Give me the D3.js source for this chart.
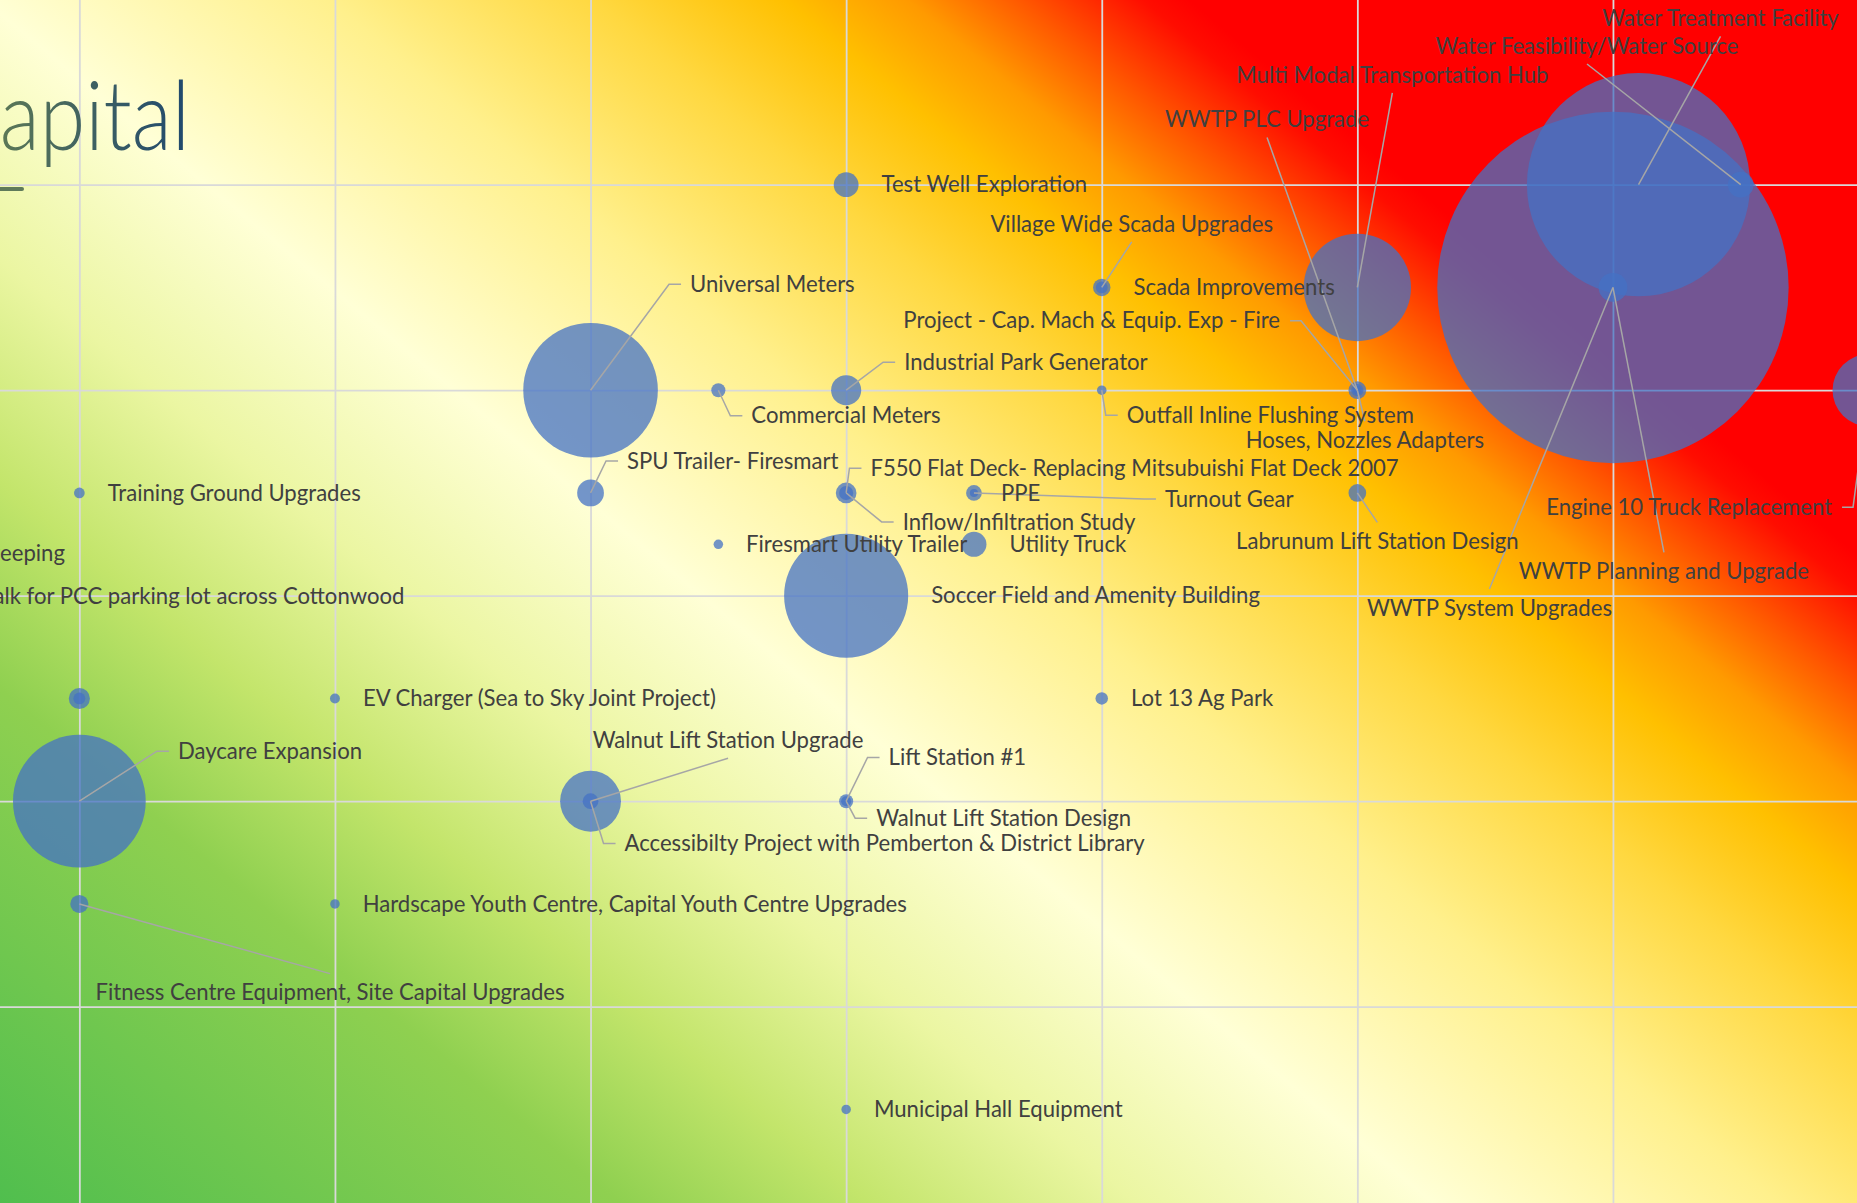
<!DOCTYPE html>
<html>
<head>
<meta charset="utf-8">
<script src="https://cdn.jsdelivr.net/npm/d3@7"></script>
<style>
  html, body { margin: 0; padding: 0; overflow: hidden; background: #fff; }
  svg { display: block; }
</style>
</head>
<body>
<div id="chart"></div>
<script>
// Project names, scores and cost (bubble size, $k)
const projects = [
  "Test Well Exploration",
  "Village Wide Scada Upgrades",
  "Scada Improvements",
  "Multi Modal Transportation Hub",
  "Universal Meters",
  "Commercial Meters",
  "Industrial Park Generator",
  "Outfall Inline Flushing System",
  "Project - Cap. Mach & Equip. Exp - Fire",
  "WWTP PLC Upgrade",
  "Hoses, Nozzles Adapters",
  "WWTP Planning and Upgrade",
  "WWTP System Upgrades",
  "Water Treatment Facility",
  "Water Feasibility/Water Source",
  "Engine 10 Truck Replacement",
  "Labrunum Lift Station Design",
  "PPE",
  "Turnout Gear",
  "F550 Flat Deck- Replacing Mitsubuishi Flat Deck 2007",
  "Inflow/Infiltration Study",
  "SPU Trailer- Firesmart",
  "Training Ground Upgrades",
  "Firesmart Utility Trailer",
  "Utility Truck",
  "Soccer Field and Amenity Building",
  "EV Charger (Sea to Sky Joint Project)",
  "Street Sweeping",
  "Sidewalk for PCC parking lot across Cottonwood",
  "Lot 13 Ag Park",
  "Daycare Expansion",
  "Walnut Lift Station Upgrade",
  "Accessibilty Project with Pemberton & District Library",
  "Lift Station #1",
  "Walnut Lift Station Design",
  "Fitness Centre Equipment, Site Capital Upgrades",
  "Hardscape Youth Centre, Capital Youth Centre Upgrades",
  "Municipal Hall Equipment"
];
const xScores = [4, 5, 5, 6, 3, 3.5, 4, 5, 6, 6, 6, 7, 7, 7.1, 7.5, 8, 6, 4.5, 4.5, 4, 4, 3, 1, 3.5, 4.5, 4, 2, 1, 1, 5, 1, 3, 3, 4, 4, 1, 2, 4];
const yScores = [5, 4.5, 4.5, 4.5, 4, 4, 4, 4, 4, 4, 4, 4.5, 4.5, 5, 5, 4, 3.5, 3.5, 3.5, 3.5, 3.5, 3.5, 3.5, 3.25, 3.25, 3, 2.5, 2.5, 2.5, 2.5, 2, 2, 2, 2, 2, 1.5, 1.5, 0.5];
const costs = [75, 17, 37, 1400, 2200, 24, 110, 11, 38, 18, 8, 15000, 100, 6050, 80, 630, 38, 8, 30, 52, 24, 87, 14, 11, 76, 1870, 12, 17, 54, 19, 2140, 450, 30, 24, 12, 40, 11, 11];

const xTicks = [0, 1, 2, 3, 4, 5, 6, 7, 8];
const yTicks = [0, 1, 2, 3, 4, 5, 6];

// Moved labels: offset of the label anchor from the bubble centre, and leader side
const labelLayout = {
  "Village Wide Scada Upgrades": { dx: 30, dy: -63.5, anchor: "middle", leader: "below" },
  "Multi Modal Transportation Hub": { dx: 35, dy: -212.5, anchor: "middle", leader: "below" },
  "Universal Meters": { dx: 99.5, dy: -106, anchor: "start", leader: "left" },
  "Commercial Meters": { dx: 33, dy: 25.5, anchor: "start", leader: "left" },
  "Industrial Park Generator": { dx: 58, dy: -28, anchor: "start", leader: "left" },
  "Outfall Inline Flushing System": { dx: 25, dy: 25, anchor: "start", leader: "left" },
  "Project - Cap. Mach & Equip. Exp - Fire": { dx: -77.3, dy: -69.5, anchor: "end", leader: "right" },
  "WWTP PLC Upgrade": { dx: -90.3, dy: -270.7, anchor: "middle", leader: "below" },
  "Hoses, Nozzles Adapters": { dx: 7.5, dy: 50, anchor: "middle", leader: "above" },
  "WWTP Planning and Upgrade": { dx: 51, dy: 284, anchor: "middle", leader: "above" },
  "WWTP System Upgrades": { dx: -123.5, dy: 320.5, anchor: "middle", leader: "above" },
  "Water Treatment Facility": { dx: 82, dy: -166.4, anchor: "middle", leader: "below" },
  "Water Feasibility/Water Source": { dx: -153.75, dy: -138.7, anchor: "middle", leader: "below" },
  "Engine 10 Truck Replacement": { dx: -36.5, dy: 117, anchor: "end", leader: "right" },
  "Labrunum Lift Station Design": { dx: 20, dy: 48.5, anchor: "middle", leader: "above" },
  "Turnout Gear": { dx: 191, dy: 6, anchor: "start", leader: "left" },
  "F550 Flat Deck- Replacing Mitsubuishi Flat Deck 2007": { dx: 24.3, dy: -24.7, anchor: "start", leader: "left" },
  "Inflow/Infiltration Study": { dx: 56.5, dy: 29, anchor: "start", leader: "left" },
  "SPU Trailer- Firesmart": { dx: 36.5, dy: -32, anchor: "start", leader: "left" },
  "Street Sweeping": { dx: -14.4, dy: -145.5, anchor: "end", leader: null },
  "Sidewalk for PCC parking lot across Cottonwood": { dx: 325, dy: -101.8, anchor: "end", leader: null },
  "Daycare Expansion": { dx: 98.6, dy: -50, anchor: "start", leader: "left" },
  "Walnut Lift Station Upgrade": { dx: 137.5, dy: -61, anchor: "middle", leader: "below" },
  "Accessibilty Project with Pemberton & District Library": { dx: 34, dy: 42.3, anchor: "start", leader: "left" },
  "Lift Station #1": { dx: 42.4, dy: -43.7, anchor: "start", leader: "left" },
  "Walnut Lift Station Design": { dx: 30, dy: 17, anchor: "start", leader: "left" },
  "Fitness Centre Equipment, Site Capital Upgrades": { dx: 250.7, dy: 88.7, anchor: "middle", leader: "above" }
};

const width = 1857;
const height = 1203;
// plot area is larger than the visible frame (chart is cropped)
const plot = { left: -176.25, right: 1868.55, top: -20.8, bottom: 1212.2 };

const xScale = d3.scaleLinear().domain([0, 8]).range([plot.left, plot.right]);
const yScale = d3.scaleLinear().domain([0, 6]).range([plot.bottom, plot.top]);
const rScale = d3.scaleSqrt().domain([0, 15000]).range([0, 175.7]);

const data = projects.map((name, i) => ({
  name: name,
  x: xScores[i],
  y: yScores[i],
  cost: costs[i]
}));
data.forEach(d => {
  d.cx = xScale(d.x);
  d.cy = yScale(d.y);
  d.r = rScale(d.cost);
});

const svg = d3.select("#chart")
  .append("svg")
  .attr("width", width)
  .attr("height", height);

const defs = svg.append("defs");

// background gradient: green -> pale yellow -> amber -> red
const bg = defs.append("linearGradient")
  .attr("id", "bgGrad")
  .attr("gradientUnits", "userSpaceOnUse")
  .attr("x1", -606.8).attr("y1", 731.0)
  .attr("x2", 511.0).attr("y2", -615.6);
[
  [0.011, "#4FBE4E"], [0.24, "#8FD050"], [0.331, "#C3E56B"], [0.429, "#EBF6A2"],
  [0.537, "#FFFFD6"], [0.663, "#FFF08C"], [0.76, "#FFD840"], [0.829, "#FFC000"],
  [0.874, "#FF9A00"], [0.914, "#FF5A00"], [0.96, "#FF0D00"], [0.977, "#FF0000"]
].forEach(s => bg.append("stop").attr("offset", s[0]).attr("stop-color", s[1]));

const titleGrad = defs.append("linearGradient")
  .attr("id", "titleGrad")
  .attr("gradientUnits", "userSpaceOnUse")
  .attr("x1", -230).attr("y1", 0).attr("x2", 0).attr("y2", 0);
titleGrad.append("stop").attr("offset", 0).attr("stop-color", "#5E7A55");
titleGrad.append("stop").attr("offset", 1).attr("stop-color", "#1F486E");

svg.append("rect")
  .attr("x", plot.left)
  .attr("y", plot.top)
  .attr("width", plot.right - plot.left)
  .attr("height", plot.bottom - plot.top)
  .attr("fill", "url(#bgGrad)");

// gridlines
const gx = svg.append("g")
  .attr("transform", `translate(0,${plot.bottom})`)
  .call(d3.axisBottom(xScale).tickValues(xTicks).tickSize(-(plot.bottom - plot.top)).tickFormat(""));
const gy = svg.append("g")
  .attr("transform", `translate(${plot.left},0)`)
  .call(d3.axisLeft(yScale).tickValues(yTicks).tickSize(-(plot.right - plot.left)).tickFormat(""));
[gx, gy].forEach(g => {
  g.select(".domain").remove();
  g.selectAll("line").attr("stroke", "#D9D9D9").attr("stroke-width", 1.8);
});

// title (cropped on the left)
svg.append("text")
  .attr("transform", "translate(190,150) scale(0.86,1)")
  .attr("text-anchor", "end")
  .style("font-family", "Lato, 'Open Sans', sans-serif")
  .style("font-weight", 300)
  .style("font-size", "96px")
  .attr("fill", "url(#titleGrad)")
  .text("Capital");
svg.append("line")
  .attr("x1", -10).attr("x2", 22)
  .attr("y1", 189).attr("y2", 189)
  .attr("stroke", "#5F7A5A")
  .attr("stroke-width", 4)
  .attr("stroke-linecap", "round");

// bubbles, largest first
svg.append("g")
  .selectAll("circle")
  .data(data.slice().sort((a, b) => b.cost - a.cost))
  .join("circle")
  .attr("cx", d => d.cx)
  .attr("cy", d => d.cy)
  .attr("r", d => d.r)
  .attr("fill", "#4472C4")
  .attr("fill-opacity", 0.75);

// labels
const fontFamily = "Lato, 'Open Sans', sans-serif";
const probe = svg.append("text")
  .style("font-family", fontFamily)
  .style("font-size", "24px")
  .text("Soccer Field and Amenity Building");
const fontSize = 24 * 329 / probe.node().getComputedTextLength();
probe.remove();

const leaderG = svg.append("g");
const labelG = svg.append("g")
  .style("font-family", fontFamily)
  .style("font-size", fontSize + "px")
  .attr("fill", "#404040");

const line = d3.line();

data.forEach(d => {
  const lay = labelLayout[d.name];
  let lx, ly, anchor;
  if (lay) {
    lx = d.cx + lay.dx;
    ly = d.cy + lay.dy;
    anchor = lay.anchor;
  } else {
    lx = d.cx + d.r + 23;
    ly = d.cy;
    anchor = "start";
  }
  labelG.append("text")
    .attr("x", lx)
    .attr("y", ly)
    .attr("dy", "0.35em")
    .attr("text-anchor", anchor)
    .text(d.name);

  if (!lay || !lay.leader) return;
  let pts;
  if (lay.leader === "left") {
    pts = [[d.cx, d.cy], [lx - 21, ly], [lx - 9, ly]];
  } else if (lay.leader === "right") {
    pts = [[lx + 10, ly], [lx + 21, ly], [d.cx, d.cy]];
  } else if (lay.leader === "below") {
    pts = [[lx, ly + 18], [d.cx, d.cy]];
  } else {
    pts = [[lx, ly - 19], [d.cx, d.cy]];
  }
  leaderG.append("path")
    .attr("d", line(pts))
    .attr("fill", "none")
    .attr("stroke", "#A6A6A6")
    .attr("stroke-width", 1.5);
});
</script>
</body>
</html>
